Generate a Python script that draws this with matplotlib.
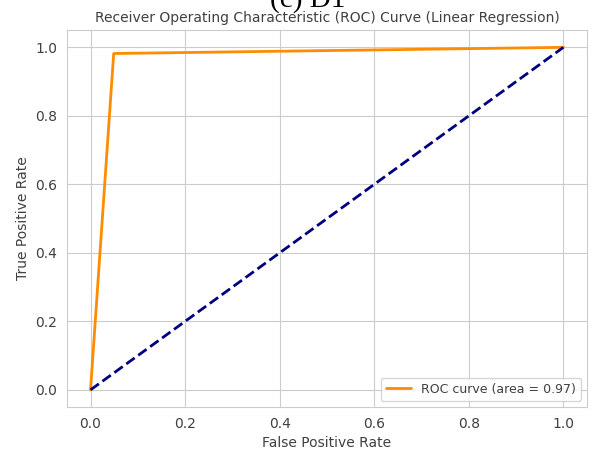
import matplotlib.pyplot as plt
import seaborn as sns

sns.set_style('whitegrid')
plt.rcParams['text.color'] = '0.25'
plt.rcParams['axes.labelcolor'] = '0.25'
plt.rcParams['xtick.color'] = '0.25'
plt.rcParams['ytick.color'] = '0.25'

fpr = [0.0, 0.049, 1.0]
tpr = [0.0, 0.982, 1.0]
roc_auc = 0.97
diag = [0.0, 1.0]

fig = plt.figure(figsize=(5.92, 4.51), dpi=100)
ax = fig.add_axes([0.113, 0.0976, 0.8786, 0.8354])

ax.plot(fpr, tpr, color='darkorange', lw=2, label='ROC curve (area = %0.2f)' % roc_auc)
ax.plot(diag, diag, color='navy', lw=2, linestyle='--')
ax.set_xlabel('False Positive Rate', fontsize=10)
ax.set_ylabel('True Positive Rate', fontsize=10)
ax.set_title('Receiver Operating Characteristic (ROC) Curve (Linear Regression)', fontsize=10)
ax.tick_params(labelsize=10)
ax.legend(loc='lower right', fontsize=9)

# caption cut off at the top of the image
fig.text(0.519, 0.985, '(c) D1', ha='center', va='baseline', fontsize=21,
         family='Liberation Serif', color='black')

fig.savefig('out.png', dpi=100)
